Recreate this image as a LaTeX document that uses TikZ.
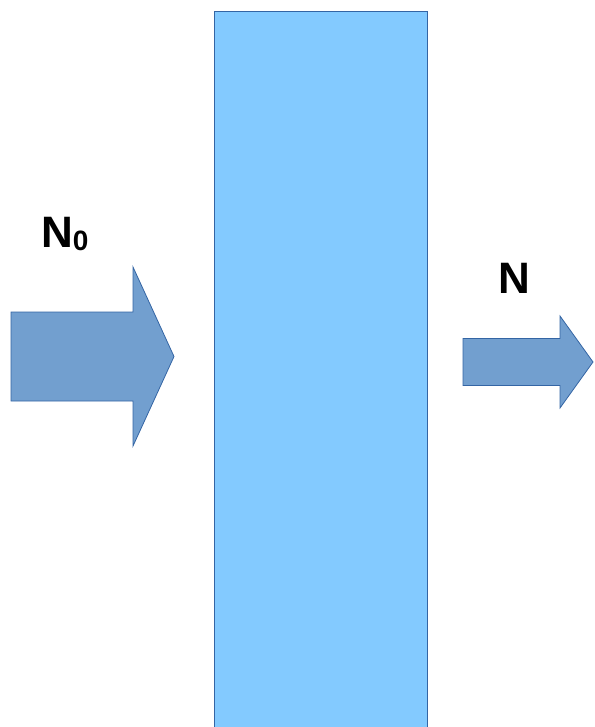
\documentclass[tikz,border=0pt]{standalone}
\usepackage{fontspec}
\setmainfont{Liberation Sans}
\usetikzlibrary{positioning}
\definecolor{slabFill}{HTML}{83CAFF}
\definecolor{arrowFill}{HTML}{729FCF}
\definecolor{edgeColor}{HTML}{3465A4}
\tikzstyle{slabStyle} = [fill=slabFill]
\tikzstyle{slabEdge} = [color=edgeColor, line width=1pt]
\tikzstyle{arrowStyle} = [fill=arrowFill, draw=edgeColor, line width=.8pt, line join=miter]
\tikzstyle{beamText} = [inner sep=0pt, font=\bfseries\fontsize{44}{50}\selectfont]
% #1 shaft start, #2 head base, #3 tip, #4 centre y, #5 half shaft, #6 half head
\newcommand{\blockArrow}[6]{\filldraw [arrowStyle] (#1, #4 - #5) -- (#2, #4 - #5) -- (#2, #4 - #6) -- (#3, #4) -- (#2, #4 + #6) -- (#2, #4 + #5) -- (#1, #4 + #5) -- cycle;}
\begin{document}
\begin{tikzpicture}[x=1pt, y=-1pt]
  \useasboundingbox (0,0) rectangle (594,727);
  % absorbing layer
  \fill [slabStyle] (214,12) rectangle (427,727);
  \draw [slabEdge] (214,727) -- (214,12) -- (427,12) -- (427,727);
  % incoming and outgoing beams
  \blockArrow{11}{133}{174}{356.5}{44.5}{89.5}
  \blockArrow{463}{560}{593}{362}{23.5}{46}
  \node [beamText, anchor=base west] (incoming) at (41,247) {N\raisebox{-3pt}{\fontsize{28}{30}\selectfont 0}};
  \node [beamText, anchor=base] (outgoing) at (514.5,293) {N};
\end{tikzpicture}
\end{document}
